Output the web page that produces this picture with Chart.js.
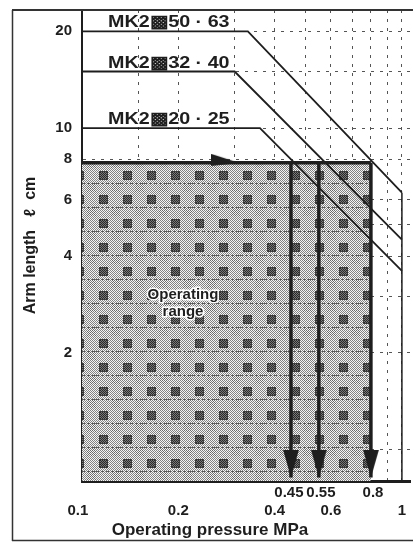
<!DOCTYPE html>
<html>
<head>
<meta charset="utf-8">
<title>Arm length vs operating pressure</title>
<script src="https://cdn.jsdelivr.net/npm/chart.js@4.4.1/dist/chart.umd.min.js"></script>
<style>
  html, body { margin: 0; padding: 0; background: #fff; }
  canvas { display: block; }
</style>
</head>
<body>
<canvas id="chart" width="413" height="542"></canvas>
<script>
// Values
const seriesNames = ["MK2\u25A950 \u00B7 63", "MK2\u25A932 \u00B7 40", "MK2\u25A920 \u00B7 25"];
const seriesPressure = [[0.1, 0.33, 1], [0.1, 0.30, 1], [0.1, 0.36, 1]];
const seriesLength = [[20, 20, 6.3], [15, 15, 4.5], [10, 10, 3.6]];
const rangePressure = [0.1, 0.8];
const rangeLength = 7.8;
const limitPressure = [0.45, 0.55, 0.8];
const limitEndLength = 0.82;
const arrowPressure = 0.31;

// Axis ticks (labels padded a little so neighbours do not touch, as printed)
const pressureGrid = [0.1, 0.15, 0.2, 0.3, 0.4, 0.45, 0.5, 0.55, 0.6, 0.7, 0.8, 0.9, 1];
const pressureLabelsLow = { 0.1: "0.1  ", 0.2: "0.2", 0.4: "0.4", 0.6: "0.6", 1: "1" };
const pressureLabelsHigh = { 0.45: "0.45 ", 0.55: " 0.55", 0.8: " 0.8" };
const pressureNoGrid = [0.1, 0.45, 0.55];
const lengthGrid = [1, 2, 3, 4, 5, 6, 8, 10, 15, 20];
const lengthLabels = [2, 4, 6, 8, 10, 20];

const pressureMin = 0.1, pressureMax = 1.06;
const lengthMin = 0.8, lengthMax = 23.3;

const ink = "#1e1e1e";
const fontFamily = '"Liberation Sans", Arial, Helvetica, sans-serif';
Chart.defaults.font.family = fontFamily;

// Gray cross-hatched fill of the operating range
function makeRangePattern() {
    const n = 24;
    const c = document.createElement("canvas");
    c.width = n; c.height = n;
    const g = c.getContext("2d");
    const img = g.createImageData(n, n);
    for (let yy = 0; yy < n; yy++) {
        for (let xx = 0; xx < n; xx++) {
            let v = (xx + yy) % 2 === 0 ? 130 : 245;
            if (xx >= 3 && xx <= 11 && yy >= 3 && yy <= 11) {
                const edge = xx === 3 || xx === 11 || yy === 3 || yy === 11;
                v = edge ? 60 : ((xx + yy) % 2 === 0 ? 40 : 120);
            }
            const dx = Math.abs(xx - 19), dy = Math.abs(yy - 19);
            if (dx <= 4 && dy <= 4 && (Math.abs(dx - dy) < 1 || dx + dy === 4)) v = 105;
            if (yy === 15 && xx % 5 < 3) v = 90;
            const k = (yy * n + xx) * 4;
            img.data[k] = img.data[k + 1] = img.data[k + 2] = v;
            img.data[k + 3] = 255;
        }
    }
    g.putImageData(img, 0, 0);
    return g.createPattern(c, "repeat");
}

// Arrow heads used as point styles (tip sits at the image centre)
function downArrow() {
    const c = document.createElement("canvas");
    c.width = 16; c.height = 56;
    const g = c.getContext("2d");
    g.fillStyle = ink;
    g.beginPath(); g.moveTo(0, 0); g.lineTo(16, 0); g.lineTo(8, 28); g.closePath(); g.fill();
    return c;
}
function rightArrow() {
    const c = document.createElement("canvas");
    c.width = 56; c.height = 18;
    const g = c.getContext("2d");
    g.fillStyle = ink;
    g.beginPath(); g.moveTo(0, 0); g.lineTo(0, 12); g.lineTo(28, 9); g.closePath(); g.fill();
    return c;
}

const arrowDown = downArrow();
const arrowRight = rightArrow();

const datasets = [];
seriesNames.forEach(function(name, i) {
    datasets.push({
        label: name,
        data: seriesPressure[i].map((p, j) => ({ x: p, y: seriesLength[i][j] })),
        borderColor: ink, borderWidth: 1.8, pointRadius: 0, fill: false
    });
});
// joining line at 1 MPa
datasets.push({
    label: "1 MPa",
    data: [{ x: 1, y: seriesLength[0][2] }, { x: 1, y: lengthMin }],
    borderColor: ink, borderWidth: 1.5, pointRadius: 0, fill: false
});
limitPressure.forEach(function(p) {
    datasets.push({
        label: "limit " + p,
        data: [{ x: p, y: rangeLength }, { x: p, y: limitEndLength }],
        borderColor: ink, borderWidth: 3.5, fill: false,
        pointStyle: c => c.dataIndex === 1 ? arrowDown : "circle",
        pointRadius: c => c.dataIndex === 1 ? 5 : 0
    });
});
datasets.push({
    label: "arrow",
    data: [{ x: arrowPressure, y: rangeLength }],
    showLine: false, pointStyle: arrowRight, pointRadius: 5
});
datasets.push({
    label: "Operating range",
    data: rangePressure.map(p => ({ x: p, y: rangeLength })),
    borderColor: ink, borderWidth: 3.5, pointRadius: 0,
    fill: "start", backgroundColor: makeRangePattern()
});

const decorations = {
    id: "decorations",
    beforeDraw(chart) {
        const g = chart.ctx;
        g.save();
        g.fillStyle = "#fff";
        g.fillRect(0, 0, chart.width, chart.height);
        g.restore();
    },
    afterDraw(chart) {
        const g = chart.ctx;
        const xs = chart.scales.x, ys = chart.scales.y;
        g.save();
        // outer frame
        g.strokeStyle = "#333";
        g.lineWidth = 1.5;
        g.beginPath();
        g.moveTo(12.5, 541); g.lineTo(12.5, 10); g.stroke();
        g.beginPath();
        g.moveTo(12, 540.5); g.lineTo(413, 540.5); g.stroke();
        g.lineWidth = 2;
        g.beginPath();
        g.moveTo(12, 10); g.lineTo(413, 10); g.stroke();

        // series names above their lines (wide bold face)
        g.fillStyle = ink;
        g.font = "bold 17px " + fontFamily;
        g.textBaseline = "alphabetic";
        seriesNames.forEach(function(name, i) {
            const tx = xs.getPixelForValue(seriesPressure[i][0]) + 26;
            const ty = ys.getPixelForValue(seriesLength[i][0]) - 4;
            g.save();
            g.translate(tx, ty);
            g.scale(1.16, 1);
            g.fillText(name, 0, 0);
            g.restore();
        });

        // label inside the range
        g.font = "bold 15px " + fontFamily;
        g.textAlign = "center";
        g.textBaseline = "middle";
        g.lineWidth = 3;
        g.strokeStyle = "#fff";
        g.strokeText("Operating", 183, 295);
        g.strokeText("range", 183, 312);
        g.fillText("Operating", 183, 295);
        g.fillText("range", 183, 312);

        // x axis title
        g.font = "bold 17px " + fontFamily;
        g.fillText("Operating pressure MPa", 210, 530);
        g.restore();
    }
};

new Chart(document.getElementById("chart"), {
    type: "line",
    data: { datasets: datasets },
    plugins: [decorations],
    options: {
        responsive: false,
        animation: false,
        devicePixelRatio: 1,
        layout: { autoPadding: false, padding: { left: 12, top: 10, right: 3, bottom: 0 } },
        plugins: {
            legend: { display: false },
            tooltip: { enabled: false }
        },
        scales: {
            x: {
                type: "logarithmic",
                min: pressureMin, max: pressureMax,
                afterFit: s => { s.height = 61; s.paddingLeft = 0; s.paddingRight = 0; },
                afterBuildTicks: s => { s.ticks = pressureGrid.map(v => ({ value: v })); },
                ticks: {
                    autoSkip: false, maxRotation: 0, minRotation: 0, padding: 3,
                    color: ink,
                    font: { size: 15, weight: "bold", lineHeight: 1.2 },
                    callback: v => pressureLabelsHigh[v] ? [pressureLabelsHigh[v], ""]
                        : pressureLabelsLow[v] ? ["", pressureLabelsLow[v]] : ""
                },
                grid: {
                    drawTicks: false,
                    lineWidth: 1,
                    color: c => (c.tick && pressureNoGrid.includes(c.tick.value)) ? "rgba(0,0,0,0)" : "#555"
                },
                border: { display: true, color: ink, width: 3, dash: [3, 6] }
            },
            y: {
                type: "logarithmic",
                min: lengthMin, max: lengthMax,
                afterFit: s => { s.width = 70; s.paddingTop = 0; s.paddingBottom = 0; },
                afterBuildTicks: s => { s.ticks = lengthGrid.map(v => ({ value: v })); },
                ticks: {
                    autoSkip: false, padding: 10,
                    color: ink,
                    font: { size: 15, weight: "bold" },
                    callback: v => lengthLabels.includes(v) ? String(v) : ""
                },
                grid: { drawTicks: false, lineWidth: 1, color: "#555" },
                border: { display: true, color: ink, width: 2, dash: [3, 6] },
                title: {
                    display: true,
                    text: "Arm length   \u2113  cm",
                    color: ink,
                    font: { size: 16, weight: "bold" },
                    padding: { top: 9, bottom: 0 }
                }
            }
        }
    }
});
</script>
</body>
</html>
